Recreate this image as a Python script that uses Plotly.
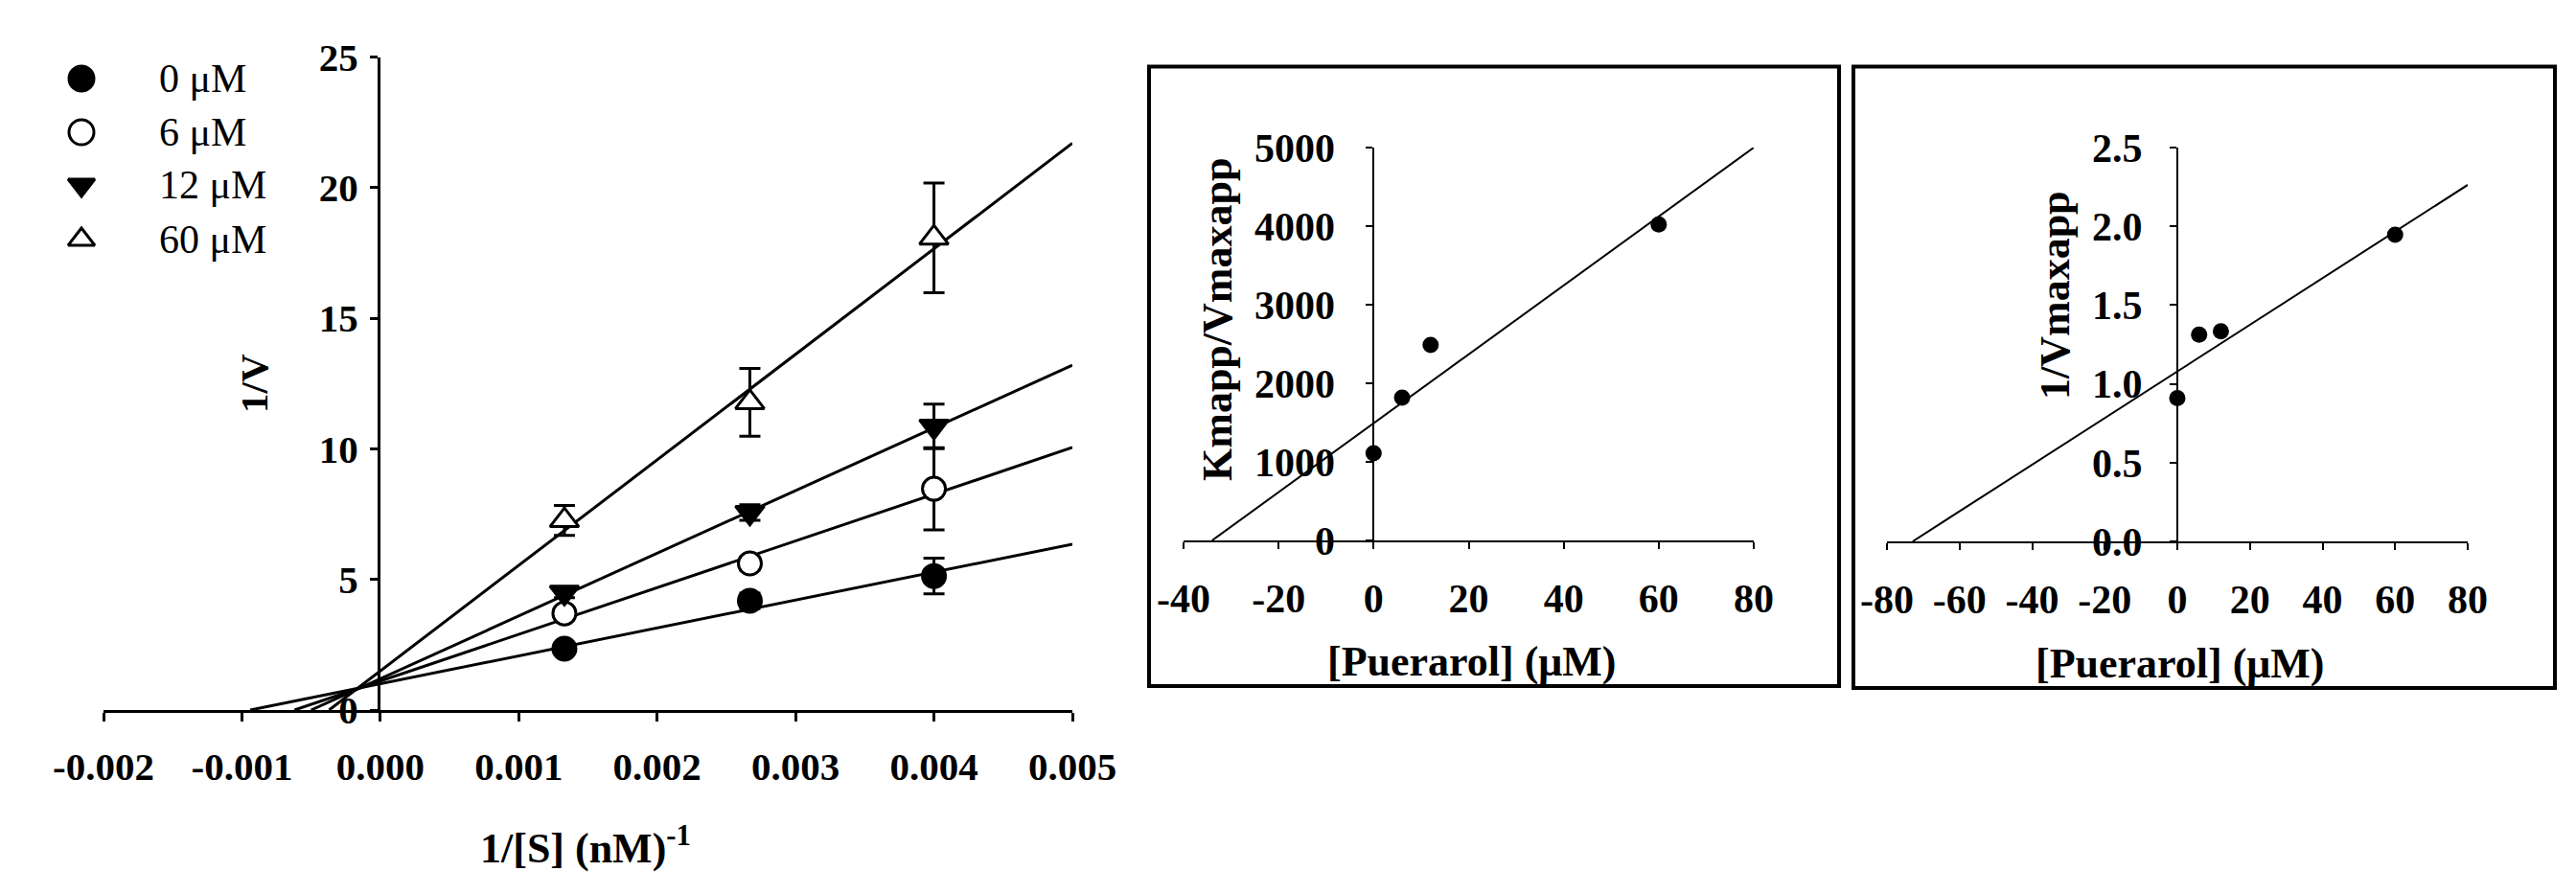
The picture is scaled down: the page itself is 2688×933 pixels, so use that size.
import plotly.graph_objects as go

W, H = 2688, 933

# ---------------- Data: Lineweaver-Burk (left panel) ----------------
inv_s = [0.00133, 0.00267, 0.004]
series_names = ["0 μM", "6 μM", "12 μM", "60 μM"]
inv_v_0 = [2.35, 4.18, 5.13]
inv_v_6 = [3.70, 5.61, 8.47]
inv_v_12 = [4.50, 7.56, 10.86]
inv_v_60 = [7.26, 11.78, 18.08]
err_0 = [0.15, 0.30, 0.68]
err_6 = [0.20, 0.25, 1.57]
err_12 = [0.20, 0.30, 0.85]
err_60 = [0.57, 1.30, 2.10]
# fitted lines: x-intercept (1/V = 0) and 1/V value at the right end
fit_x_start = [-0.00094, -0.00062, -0.00050, -0.00037]
fit_x_end = 0.005
fit_y_end = [6.35, 10.05, 13.2, 21.7]

lb_xticks = [-0.002, -0.001, 0.0, 0.001, 0.002, 0.003, 0.004, 0.005]
lb_xticktext = ["-0.002", "-0.001", "0.000", "0.001", "0.002", "0.003", "0.004", "0.005"]
lb_yticks = [0, 5, 10, 15, 20, 25]

# ---------------- Data: secondary plots ----------------
puerarol = [0, 6, 12, 60]
km_vmax = [1110, 1817, 2488, 4021]
inv_vmax = [0.91, 1.313, 1.334, 1.946]
km_fit_x = [-34.0, 80.0]
km_fit_y = [0.0, 5000.0]
vm_fit_x = [-72.9, 80.0]
vm_fit_y = [0.0, 2.263]

km_xticks = [-40, -20, 0, 20, 40, 60, 80]
km_xticktext = ["-40", "-20", "0", "20", "40", "60", "80"]
km_yticks = [0, 1000, 2000, 3000, 4000, 5000]
vm_xticks = [-80, -60, -40, -20, 0, 20, 40, 60, 80]
vm_xticktext = ["-80", "-60", "-40", "-20", "0", "20", "40", "60", "80"]
vm_yticks = [0.0, 0.5, 1.0, 1.5, 2.0, 2.5]
vm_yticktext = ["0.0", "0.5", "1.0", "1.5", "2.0", "2.5"]

# ---------------- Styles ----------------
SERIF = "Liberation Serif, Times New Roman, serif"
BLACK = "black"
symbols = ["circle", "circle", "triangle-down", "triangle-up"]
fills = [BLACK, "white", BLACK, "white"]


def px_x(p):
    return p / W


def px_y(p):
    return 1 - p / H


fig = go.Figure()

# ---- left panel: fitted lines
for i in range(4):
    fig.add_trace(go.Scatter(
        x=[fit_x_start[i], fit_x_end], y=[0, fit_y_end[i]],
        mode="lines", line=dict(color=BLACK, width=3),
        xaxis="x", yaxis="y", showlegend=False, hoverinfo="skip"))

# ---- left panel: data points with error bars
ys = [inv_v_0, inv_v_6, inv_v_12, inv_v_60]
errs = [err_0, err_6, err_12, err_60]
for i in range(4):
    fig.add_trace(go.Scatter(
        x=inv_s, y=ys[i], mode="markers", name=series_names[i],
        marker=dict(symbol=symbols[i], size=24 if i < 2 else 26, color=fills[i],
                    line=dict(color=BLACK, width=3)),
        error_y=dict(type="data", array=errs[i], visible=True,
                     color=BLACK, thickness=3, width=11),
        xaxis="x", yaxis="y", showlegend=False, cliponaxis=False))

# ---- middle panel
fig.add_trace(go.Scatter(x=km_fit_x, y=km_fit_y, mode="lines",
                         line=dict(color=BLACK, width=2),
                         xaxis="x2", yaxis="y2", showlegend=False, hoverinfo="skip"))
fig.add_trace(go.Scatter(x=puerarol, y=km_vmax, mode="markers",
                         marker=dict(symbol="circle", size=17, color=BLACK),
                         xaxis="x2", yaxis="y2", showlegend=False, cliponaxis=False))

# ---- right panel
fig.add_trace(go.Scatter(x=vm_fit_x, y=vm_fit_y, mode="lines",
                         line=dict(color=BLACK, width=2),
                         xaxis="x3", yaxis="y3", showlegend=False, hoverinfo="skip"))
fig.add_trace(go.Scatter(x=puerarol, y=inv_vmax, mode="markers",
                         marker=dict(symbol="circle", size=17, color=BLACK),
                         xaxis="x3", yaxis="y3", showlegend=False, cliponaxis=False))

# ---- custom legend (overlay axes in pixel space)
leg_sym_x = 85
leg_txt_x = 164
leg_rows = [82, 138, 193, 250]
for i in range(4):
    fig.add_trace(go.Scatter(
        x=[leg_sym_x], y=[leg_rows[i]], mode="markers",
        marker=dict(symbol=symbols[i], size=26 if i < 2 else 24, color=fills[i],
                    line=dict(color=BLACK, width=3)),
        xaxis="x4", yaxis="y4", showlegend=False, hoverinfo="skip", cliponaxis=False))

tickfont_l = dict(family=SERIF, size=41, color=BLACK, weight="bold")
tickfont_r = dict(family=SERIF, size=42, color=BLACK, weight="bold")

common = dict(showgrid=False, zeroline=False, showline=True, linecolor=BLACK,
              ticks="outside", tickcolor=BLACK, fixedrange=True, automargin=False)

fig.update_layout(
    template="none",
    width=W, height=H,
    margin=dict(l=0, r=0, t=0, b=0, pad=0, autoexpand=False),
    paper_bgcolor="white", plot_bgcolor="rgba(0,0,0,0)",
    showlegend=False,
    xaxis=dict(domain=[px_x(108), px_x(1119)], range=[-0.002, 0.005],
               tickvals=lb_xticks, ticktext=lb_xticktext, anchor="y",
               linewidth=3, tickwidth=3, ticklen=9, tickfont=tickfont_l,
               ticklabelstandoff=12, **common),
    yaxis=dict(domain=[px_y(741), px_y(59.5)], range=[0, 25],
               tickvals=lb_yticks, anchor="free", position=px_x(395),
               linewidth=3, tickwidth=3, ticklen=8, tickfont=tickfont_l,
               ticklabelstandoff=4, **common),
    xaxis2=dict(domain=[px_x(1235), px_x(1830)], range=[-40, 80],
                tickvals=km_xticks, ticktext=km_xticktext, anchor="y2",
                linewidth=2, tickwidth=2, ticklen=7, tickfont=tickfont_r,
                ticklabelstandoff=16, **common),
    yaxis2=dict(domain=[px_y(564), px_y(154)], range=[0, 5000],
                tickvals=km_yticks, anchor="free", position=px_x(1433.3),
                linewidth=2, tickwidth=2, ticklen=7, tickfont=tickfont_r,
                ticklabelstandoff=24, **common),
    xaxis3=dict(domain=[px_x(1969), px_x(2575)], range=[-80, 80],
                tickvals=vm_xticks, ticktext=vm_xticktext, anchor="y3",
                linewidth=2, tickwidth=2, ticklen=7, tickfont=tickfont_r,
                ticklabelstandoff=16, **common),
    yaxis3=dict(domain=[px_y(565), px_y(154)], range=[0, 2.5],
                tickvals=vm_yticks, ticktext=vm_yticktext, anchor="free",
                position=px_x(2272), linewidth=2, tickwidth=2, ticklen=7,
                tickfont=tickfont_r, ticklabelstandoff=20, **common),
    xaxis4=dict(domain=[0, 1], range=[0, W], visible=False, fixedrange=True,
                anchor="y4", automargin=False),
    yaxis4=dict(domain=[0, 1], range=[H, 0], visible=False, fixedrange=True,
                anchor="x4", automargin=False),
)

# panel frames
for (x0, x1, y0, y1) in [(1199, 1919, 69.5, 716), (1934, 2666, 69.5, 718)]:
    fig.add_shape(type="rect", xref="paper", yref="paper",
                  x0=px_x(x0), x1=px_x(x1), y0=px_y(y1), y1=px_y(y0),
                  line=dict(color=BLACK, width=4), fillcolor="rgba(0,0,0,0)")

# axis titles
title_font = dict(family=SERIF, size=41, color=BLACK, weight="bold")
title_font_x = dict(family=SERIF, size=44, color=BLACK, weight="bold")
title_font_r = dict(family=SERIF, size=44, color=BLACK, weight="bold")


def ann(text, cx, cy, font, angle=0):
    fig.add_annotation(text=text, xref="paper", yref="paper",
                       x=px_x(cx), y=px_y(cy), xanchor="center", yanchor="middle",
                       showarrow=False, textangle=angle, font=font)


ann("1/V", 265, 400, title_font, -90)
ann("1/[S] (nM)<sup>-1</sup>", 611, 882, title_font_x)
ann("Kmapp/Vmaxapp", 1270, 334, title_font_r, -90)
ann("[Puerarol] (μM)", 1535, 690, title_font_r)
ann("1/Vmaxapp", 2145, 308, title_font_r, -90)
ann("[Puerarol] (μM)", 2274, 692, title_font_r)

# legend labels
for i in range(4):
    fig.add_annotation(text=series_names[i], xref="paper", yref="paper",
                       x=px_x(leg_txt_x), y=px_y(leg_rows[i]), xanchor="left",
                       yanchor="middle", showarrow=False,
                       font=dict(family=SERIF, size=42, color=BLACK))

fig.write_html("out.html", config={"displayModeBar": False},
               post_script="document.body.style.margin='0';")
